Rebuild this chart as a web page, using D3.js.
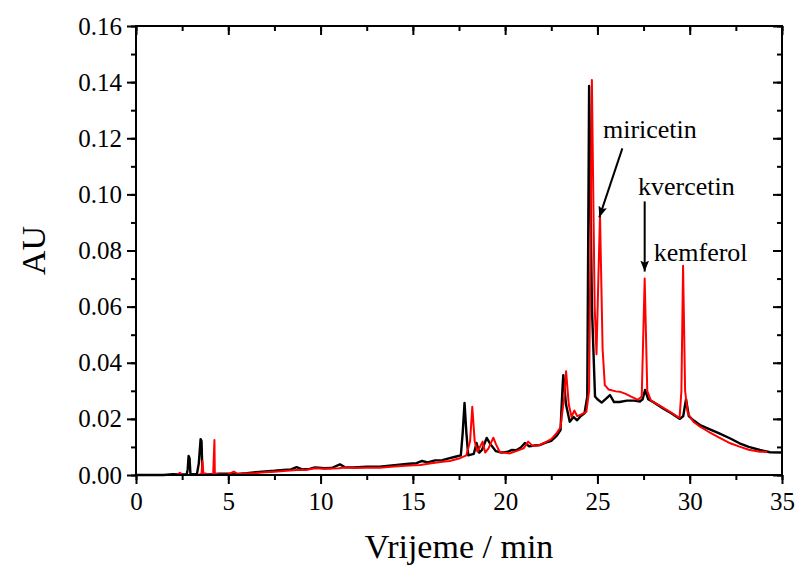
<!DOCTYPE html>
<html><head><meta charset="utf-8">
<script src="https://cdn.jsdelivr.net/npm/d3@7/dist/d3.min.js"></script>
<style>html,body{margin:0;padding:0;background:#fff}svg{display:block}text{font-family:"Liberation Serif","Times New Roman",serif}</style>
</head><body>
<script>
const timeBlack=[0,1.5,2.0,2.3,2.75,2.8,2.85,2.9,2.95,3.3,3.4,3.5,3.55,3.6,4.0,4.5,5.0,5.5,6.0,6.5,7.0,7.5,8.0,8.4,8.7,9.0,9.4,9.7,10.2,10.6,11.05,11.3,11.8,12.5,13.2,14.0,14.8,15.2,15.5,15.8,16.2,16.6,17.0,17.3,17.6,17.7,17.8,17.9,18.0,18.3,18.45,18.6,18.75,19.0,19.2,19.5,19.8,20.1,20.35,20.6,20.85,21.07,21.3,21.6,21.9,22.2,22.5,22.8,23.0,23.1,23.15,23.3,23.5,23.7,23.9,24.1,24.3,24.45,24.55,24.7,24.87,25.0,25.23,25.68,25.9,26.2,26.6,27.0,27.3,27.45,27.58,27.75,28.1,28.6,29.0,29.47,29.65,29.8,29.95,30.2,30.56,31.0,31.6,32.2,32.7,33.2,33.8,34.35,35.0];
const auBlack=[0,0,0.0003,0.0002,0.0002,0.002,0.0068,0.006,0.0003,0.0003,0.004,0.0128,0.012,0.0005,0.0002,0.0005,0.0005,0.0004,0.0006,0.001,0.0013,0.0015,0.0018,0.002,0.0028,0.002,0.0022,0.0027,0.0024,0.0025,0.0038,0.0028,0.0027,0.003,0.003,0.0035,0.004,0.0042,0.005,0.0045,0.0052,0.0053,0.006,0.0065,0.007,0.015,0.0257,0.015,0.007,0.0075,0.0114,0.008,0.009,0.0132,0.011,0.0085,0.008,0.0082,0.0089,0.0088,0.0098,0.0114,0.0102,0.0105,0.0107,0.0115,0.0122,0.014,0.016,0.03,0.0356,0.025,0.019,0.0207,0.0195,0.021,0.022,0.028,0.1386,0.06,0.028,0.027,0.0258,0.0285,0.026,0.026,0.0265,0.0265,0.0262,0.027,0.0303,0.027,0.0257,0.0235,0.022,0.0200,0.021,0.027,0.021,0.0195,0.0178,0.0165,0.0148,0.013,0.0113,0.0100,0.0089,0.0081,0.0080];
const timeRed=[0,2.2,2.38,2.5,3.4,3.55,3.6,3.65,4.18,4.25,4.27,4.5,5.0,5.3,5.5,6.0,6.5,7.0,7.5,8.0,8.7,9.2,9.7,10.2,10.6,11.0,11.3,11.8,12.5,13.2,14.0,14.8,15.4,16.0,16.6,17.0,17.55,17.9,18.1,18.22,18.35,18.5,18.78,18.92,19.1,19.36,19.5,19.7,20.26,20.6,21.0,21.25,21.5,21.9,22.2,22.5,22.8,23.0,23.2,23.3,23.45,23.6,23.75,23.9,24.1,24.4,24.55,24.7,24.85,24.95,25.05,25.14,25.28,25.4,25.6,26.0,26.2,26.5,26.8,27.2,27.4,27.56,27.7,27.9,28.4,29.0,29.45,29.55,29.64,29.75,29.9,30.2,30.56,31.0,31.6,32.2,32.7,33.2,33.8,34.2];
const auRed=[0,0,0.0008,0,0,0.0005,0.005,0.0005,0,0.0125,0.0005,0.0002,0.0003,0.0012,0.0004,0.0005,0.0007,0.001,0.0012,0.0014,0.0018,0.0018,0.0024,0.0022,0.0023,0.0024,0.0027,0.0025,0.0026,0.0026,0.003,0.0034,0.0036,0.0042,0.0047,0.005,0.006,0.007,0.012,0.0243,0.012,0.0083,0.0119,0.008,0.0095,0.0133,0.011,0.0083,0.0077,0.0085,0.0095,0.0119,0.0103,0.0107,0.0117,0.0128,0.015,0.017,0.028,0.037,0.025,0.0207,0.023,0.021,0.0215,0.0225,0.03,0.1408,0.06,0.043,0.07,0.0927,0.045,0.032,0.0305,0.0298,0.0297,0.029,0.028,0.0268,0.028,0.070,0.03,0.0265,0.0246,0.0222,0.0203,0.03,0.0746,0.03,0.022,0.019,0.0172,0.0155,0.0133,0.0113,0.0101,0.009,0.0083,0.0082];
const xTicks=[0,5,10,15,20,25,30,35];
const yTicks=[0,0.02,0.04,0.06,0.08,0.10,0.12,0.14,0.16];
const yTickLabels=["0.00","0.02","0.04","0.06","0.08","0.10","0.12","0.14","0.16"];
const annotations=[
  {text:"miricetin", t:25.3, au:0.1200},
  {text:"kvercetin", t:27.2, au:0.0998},
  {text:"kemferol",  t:28.05, au:0.0762}
];
const arrows=[
  {t1:26.35, a1:0.1164, t2:25.1, a2:0.0918},
  {t1:27.56, a1:0.0975, t2:27.56, a2:0.0725}
];

const W=798,H=569;
const m={l:136,r:16,t:26,b:94};
const svg=d3.select("body").append("svg").attr("width",W).attr("height",H);
const x=d3.scaleLinear().domain([0,35]).range([m.l,W-m.r]);
const y=d3.scaleLinear().domain([0,0.16]).range([H-m.b,m.t]);
const font="Liberation Serif";

svg.append("defs").append("marker").attr("id","ah").attr("viewBox","0 0 10 10")
  .attr("refX",10).attr("refY",5).attr("markerWidth",11).attr("markerHeight",11)
  .attr("markerUnits","userSpaceOnUse").attr("orient","auto")
  .append("path").attr("d","M0,1 L10,5 L0,9 L2,5 Z").attr("fill","#000");

const line=d3.line().x(d=>x(d[0])).y(d=>y(d[1]));
const blk=timeBlack.map((t,i)=>[t,auBlack[i]]);
const red=timeRed.map((t,i)=>[t,auRed[i]]);
svg.append("path").datum(blk).attr("d",line).attr("fill","none").attr("stroke","#000").attr("stroke-width",2.4).attr("stroke-linejoin","round");
svg.append("path").datum(red).attr("d",line).attr("fill","none").attr("stroke","#ff0000").attr("stroke-width",2).attr("stroke-linejoin","round");

const xMinor=d3.range(0,35.01,2.5);
const yMinor=d3.range(0,0.1601,0.01);
function styleAxis(g){g.attr("font-family",font).attr("font-size",25);g.select(".domain").remove();g.selectAll("line").attr("stroke","#000").attr("stroke-width",2);
  g.selectAll("text").style("font-family",font).attr("font-size",25).attr("fill","#000");}
svg.append("g").attr("transform",`translate(0,${H-m.b})`).call(d3.axisBottom(x).tickValues(xMinor).tickSize(5).tickFormat("")).call(styleAxis);
svg.append("g").attr("transform",`translate(0,${H-m.b})`).call(d3.axisBottom(x).tickValues(xTicks).tickSize(9).tickPadding(8).tickFormat(d3.format("d"))).call(styleAxis);
svg.append("g").attr("transform",`translate(${m.l},0)`).call(d3.axisLeft(y).tickValues(yMinor).tickSize(5).tickFormat("")).call(styleAxis);
svg.append("g").attr("transform",`translate(${m.l},0)`).call(d3.axisLeft(y).tickValues(yTicks).tickSize(9).tickPadding(5).tickFormat((d,i)=>yTickLabels[i])).call(styleAxis);
svg.append("g").attr("transform",`translate(0,${m.t})`).call(d3.axisBottom(x).tickValues(xMinor).tickSize(5).tickFormat("")).call(styleAxis);
svg.append("g").attr("transform",`translate(0,${m.t})`).call(d3.axisBottom(x).tickValues(xTicks).tickSize(9).tickFormat("")).call(styleAxis);
svg.append("g").attr("transform",`translate(${W-m.r},0)`).call(d3.axisLeft(y).tickValues(yMinor).tickSize(5).tickFormat("")).call(styleAxis);
svg.append("g").attr("transform",`translate(${W-m.r},0)`).call(d3.axisLeft(y).tickValues(yTicks).tickSize(9).tickFormat("")).call(styleAxis);
svg.append("rect").attr("x",m.l).attr("y",m.t).attr("width",W-m.r-m.l).attr("height",H-m.b-m.t)
  .attr("fill","none").attr("stroke","#000").attr("stroke-width",2);

svg.append("text").attr("x",(m.l+W-m.r)/2).attr("y",558).attr("text-anchor","middle")
  .style("font-family",font).attr("font-size",34).text("Vrijeme / min");
svg.append("text").attr("transform",`translate(45,${(m.t+H-m.b)/2}) rotate(-90)`).attr("text-anchor","middle")
  .style("font-family",font).attr("font-size",34).text("AU");

svg.selectAll(".ann").data(annotations).enter().append("text").attr("class","ann")
  .attr("x",d=>x(d.t)).attr("y",d=>y(d.au)).style("font-family",font).attr("font-size",26).text(d=>d.text);
svg.selectAll(".arr").data(arrows).enter().append("line").attr("class","arr")
  .attr("x1",d=>x(d.t1)).attr("y1",d=>y(d.a1)).attr("x2",d=>x(d.t2)).attr("y2",d=>y(d.a2))
  .attr("stroke","#000").attr("stroke-width",2).attr("marker-end","url(#ah)");
</script>
</body></html>
